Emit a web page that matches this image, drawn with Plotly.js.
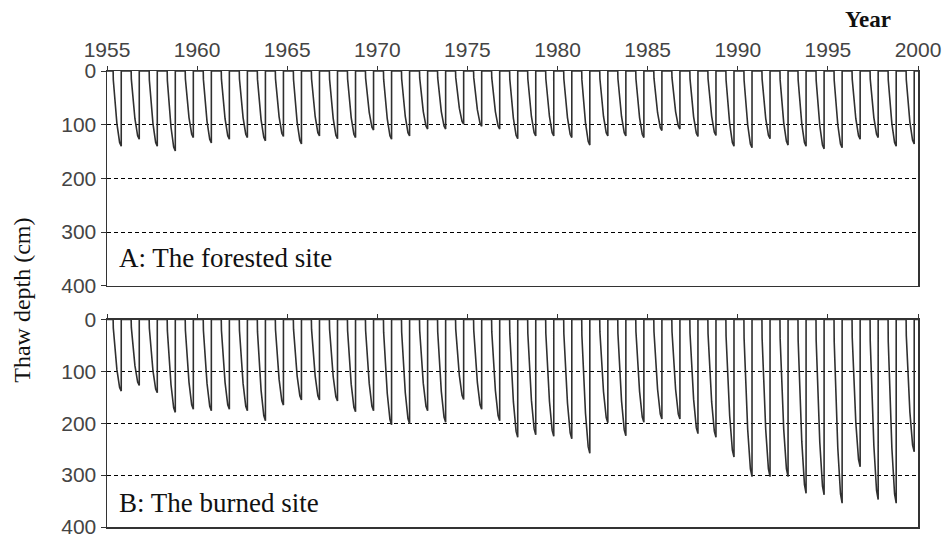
<!DOCTYPE html>
<html>
<head>
<meta charset="utf-8">
<script src="https://cdn.plot.ly/plotly-3.0.1.min.js"></script>
<style>
  html, body { margin: 0; padding: 0; background: #fff; }
  #chart { width: 946px; height: 539px; }
</style>
</head>
<body>
<div id="chart"></div>
<script>
// Seasonal cycles, one per year
const years = [1955, 1956, 1957, 1958, 1959, 1960, 1961, 1962, 1963, 1964,
               1965, 1966, 1967, 1968, 1969, 1970, 1971, 1972, 1973, 1974,
               1975, 1976, 1977, 1978, 1979, 1980, 1981, 1982, 1983, 1984,
               1985, 1986, 1987, 1988, 1989, 1990, 1991, 1992, 1993, 1994,
               1995, 1996, 1997, 1998, 1999];

// Maximum seasonal thaw depth (cm) at the forested site
const forestedMax = [140, 127, 140, 149, 124, 134, 127, 124, 130, 122,
                     136, 121, 126, 124, 110, 127, 121, 108, 108,  99,
                     103, 108, 126, 121, 121, 124, 138, 121, 121, 124,
                     111, 108, 122, 120, 140, 143, 126, 138, 140, 145,
                     143, 127, 124, 140, 136];

// Maximum seasonal thaw depth (cm) at the burned site
const burnedMax = [138, 127, 141, 179, 173, 176, 173, 176, 195, 165,
                   155, 155, 157, 178, 176, 203, 201, 176, 198, 154,
                   173, 195, 227, 222, 225, 230, 258, 199, 224, 198,
                   192, 192, 220, 227, 265, 303, 303, 303, 335, 338,
                   354, 284, 347, 354, 255];

// Within-year thaw progression: fraction of the year and fraction of that year's maximum depth
const seasonT    = [0.00, 0.34, 0.35, 0.55, 0.70, 0.75, 0.79, 0.79, 1.00];
const seasonFrac = [0.00, 0.00, 0.12, 0.70, 0.95, 1.00, 1.00, 0.00, 0.00];

const xTicks = [1955, 1960, 1965, 1970, 1975, 1980, 1985, 1990, 1995, 2000];
const yTicks = [0, 100, 200, 300, 400];

function seasonalSeries(maxDepth) {
  const x = [], y = [];
  years.forEach((yr, i) => {
    seasonT.forEach((t, j) => {
      x.push(yr + t);
      y.push(maxDepth[i] * seasonFrac[j]);
    });
  });
  return { x, y };
}

const sA = seasonalSeries(forestedMax);
const sB = seasonalSeries(burnedMax);

const lineStyle = { color: '#303030', width: 1.6 };

const traces = [
  { x: sA.x, y: sA.y, xaxis: 'x', yaxis: 'y', mode: 'lines', line: lineStyle, hoverinfo: 'skip', name: 'Forested' },
  { x: sB.x, y: sB.y, xaxis: 'x2', yaxis: 'y2', mode: 'lines', line: lineStyle, hoverinfo: 'skip', name: 'Burned' }
];

const sans = 'Liberation Sans, Arial, sans-serif';
const serif = 'Liberation Serif, Times New Roman, serif';

function xAxis(anchor, showLabels) {
  return {
    anchor: anchor,
    side: 'top',
    range: [1955, 2000],
    tickvals: xTicks,
    ticktext: xTicks.map(String),
    showticklabels: showLabels,
    ticks: 'outside',
    ticklen: 4,
    tickwidth: 1,
    tickcolor: '#333',
    showline: true,
    linecolor: '#333',
    linewidth: 1.5,
    mirror: true,
    showgrid: false,
    zeroline: false,
    ticklabeloverflow: 'allow',
    tickfont: { family: sans, size: 21, color: '#444' }
  };
}

function yAxis(anchor, domain) {
  return {
    anchor: anchor,
    domain: domain,
    range: [400, 0],
    tickvals: yTicks,
    ticks: 'outside',
    ticklen: 5,
    tickwidth: 1,
    tickcolor: '#333',
    showline: true,
    linecolor: '#333',
    linewidth: 1.5,
    mirror: true,
    showgrid: true,
    gridcolor: '#000',
    gridwidth: 1,
    griddash: '4px,3px',
    zeroline: false,
    ticklabeloverflow: 'allow',
    tickfont: { family: sans, size: 21, color: '#444' }
  };
}

const layout = {
  width: 946,
  height: 539,
  margin: { l: 107, r: 28, t: 71, b: 12 },
  paper_bgcolor: '#fff',
  plot_bgcolor: '#fff',
  showlegend: false,
  xaxis: xAxis('y', true),
  yaxis: yAxis('x', [0.529, 1]),
  xaxis2: xAxis('y2', false),
  yaxis2: yAxis('x2', [0, 0.455]),
  annotations: [
    { text: '<b>Year</b>', xref: 'paper', yref: 'paper', x: 0.938, y: 1.114,
      xanchor: 'center', yanchor: 'middle', showarrow: false,
      font: { family: serif, size: 23, color: '#111' } },
    { text: 'Thaw depth (cm)', xref: 'paper', yref: 'paper', x: -0.105, y: 0.498,
      xanchor: 'center', yanchor: 'middle', textangle: -90, showarrow: false,
      font: { family: serif, size: 24, color: '#111' } },
    { text: 'A: The forested site', xref: 'x', yref: 'y', x: 1955.55, y: 348,
      xanchor: 'left', yanchor: 'middle', showarrow: false,
      font: { family: serif, size: 27, color: '#111' } },
    { text: 'B: The burned site', xref: 'x2', yref: 'y2', x: 1955.55, y: 354,
      xanchor: 'left', yanchor: 'middle', showarrow: false,
      font: { family: serif, size: 27, color: '#111' } }
  ]
};

Plotly.newPlot('chart', traces, layout, { staticPlot: true, displayModeBar: false });
</script>
</body>
</html>
